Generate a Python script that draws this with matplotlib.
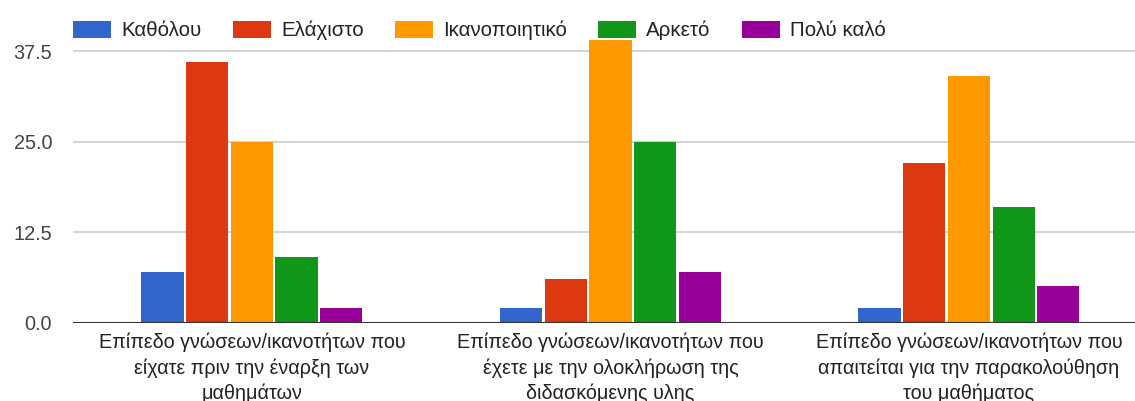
import matplotlib
matplotlib.use("Agg")
import matplotlib.pyplot as plt
from matplotlib.patches import Patch
import numpy as np

plt.rcParams['font.family'] = ['Liberation Sans', 'DejaVu Sans']

categories = [
    "Επίπεδο γνώσεων/ικανοτήτων που\nείχατε πριν την έναρξη των\nμαθημάτων",
    "Επίπεδο γνώσεων/ικανοτήτων που\nέχετε με την ολοκλήρωση της\nδιδασκόμενης υλης",
    "Επίπεδο γνώσεων/ικανοτήτων που\nαπαιτείται για την παρακολούθηση\nτου μαθήματος",
]
series_names = ["Καθόλου", "Ελάχιστο", "Ικανοποιητικό", "Αρκετό", "Πολύ καλό"]
kathólou = [7, 2, 2]
elachisto = [36, 6, 22]
ikanopoiitiko = [25, 39, 34]
arketo = [9, 25, 16]
poly_kalo = [2, 7, 5]
series_values = [kathólou, elachisto, ikanopoiitiko, arketo, poly_kalo]
colors = ["#3366cc", "#dc3912", "#ff9900", "#109618", "#990099"]
yticks = [0, 12.5, 25, 37.5]
ytick_labels = ["0.0", "12.5", "25.0", "37.5"]

# layout (pixel positions of legend entries)
legend_x_px = [73, 233, 395, 598, 742]

W, H = 1135, 401
fig = plt.figure(figsize=(W / 100, H / 100), dpi=100)
left_px = 73
y0_px = 322.7
ppu = 7.245
ytop = 39.6
ax_top_px = y0_px - ytop * ppu
ax = fig.add_axes([left_px / W, (H - y0_px) / H, 1 - left_px / W, (y0_px - ax_top_px) / H])

x = np.arange(len(categories))
step = 0.1246
width = 0.118
for i, (name, vals, c) in enumerate(zip(series_names, series_values, colors)):
    ax.bar(x + (i - 2) * step, vals, width=width, color=c, label=name, zorder=3)

ax.set_xlim(-0.499, 2.463)
ax.set_ylim(0, ytop)
ax.set_yticks(yticks)
ax.set_yticklabels(ytick_labels, color="#444444", fontsize=14.3)
ax.yaxis.grid(True, color="#cccccc", linewidth=1.2, zorder=0)
ax.axhline(0, color="#333333", linewidth=1.5, zorder=4)
for s in ax.spines.values():
    s.set_visible(False)
ax.tick_params(axis='y', length=0, pad=15)
ax.tick_params(axis='x', length=0, pad=7.3)
ax.set_xticks(x)
ax.set_xticklabels(categories, fontsize=14.2, color="#222222", linespacing=1.38)

for name, c, px in zip(series_names, colors, legend_x_px):
    fig.legend(handles=[Patch(facecolor=c, label=name)], loc="upper left",
               bbox_to_anchor=(px / W, 1 - 21 / H), bbox_transform=fig.transFigure,
               frameon=False, fontsize=14.8, handlelength=1.85, handleheight=0.87,
               handletextpad=0.49, borderpad=0, borderaxespad=0, labelcolor="#222222")

fig.savefig("out.png", dpi=100, facecolor="white")
